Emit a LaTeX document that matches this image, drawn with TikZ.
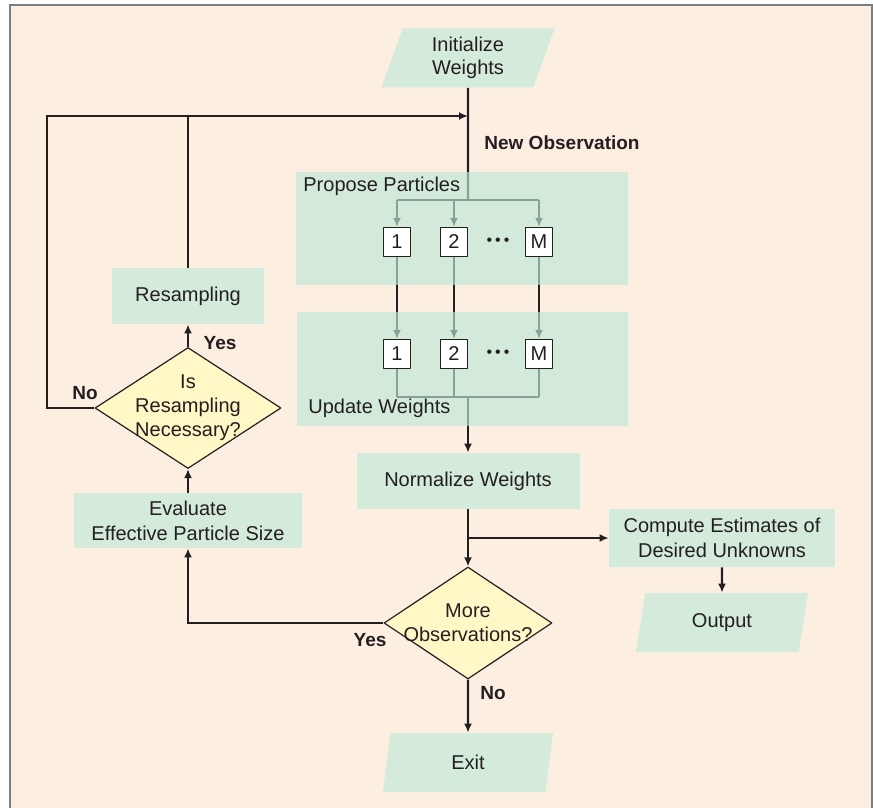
\documentclass[tikz,border=0pt]{standalone}
\usepackage{fontspec}
\setmainfont{Liberation Sans}
\usetikzlibrary{arrows.meta,shapes.geometric,calc}

\definecolor{paper}{RGB}{253,238,226}
\definecolor{mint}{RGB}{212,234,218}
\definecolor{panelmint}{RGB}{190,232,214}
\definecolor{pale}{RGB}{255,248,198}
\definecolor{ink}{RGB}{35,31,32}
\definecolor{framegray}{RGB}{125,125,125}

\pgfdeclarelayer{back}
\pgfdeclarelayer{lines}
\pgfsetlayers{back,lines,main}

\tikzset{
  stepbox/.style={rectangle,fill=mint,inner sep=0pt,text=ink,align=center,
    font=\fontsize{10}{12.5}\selectfont},
  panel/.style={rectangle,fill=panelmint,fill opacity=0.65,inner sep=0pt},
  iobox/.style={trapezium,trapezium left angle=63,trapezium right angle=117,
    trapezium stretches body=true,fill=mint,inner sep=0pt,text=ink,align=center,
    minimum height=29.5pt,font=\fontsize{10}{11.5}\selectfont},
  decision/.style={diamond,fill=pale,draw=ink,line width=0.6pt,inner sep=0pt},
  pbox/.style={rectangle,fill=white,draw=ink,line width=0.6pt,minimum width=13.5pt,
    minimum height=14.5pt,inner sep=0pt,text=ink,font=\fontsize{10}{12}\selectfont},
  dotrow/.style={inner sep=0pt,text=ink,font=\fontsize{8}{8}\selectfont},
  tag/.style={inner sep=1pt,text=ink,font=\fontsize{9.5}{11}\selectfont\bfseries},
  plain/.style={inner sep=0pt,text=ink,font=\fontsize{10}{12}\selectfont},
  link/.style={draw=ink,line width=1.2pt},
  flow/.style={link,->},
}

\begin{document}
\begin{tikzpicture}[x=0.5pt,y=-0.5pt,line join=round,>={Latex[length=4.5pt,width=4pt]}]
\useasboundingbox (0,0) rectangle (873,808);
\begin{pgfonlayer}{back}
  \fill[paper] (10,5) rectangle (873,808);
  \draw[framegray,line width=1pt] (10,808) -- (10,5) -- (872,5) -- (872,808);
\end{pgfonlayer}

% panels
\node[panel,minimum width=166pt,minimum height=56.5pt] (propose) at (462,228.5) {};
\node[panel,minimum width=165.5pt,minimum height=57pt] (update) at (462.5,369) {};
\node[plain,anchor=west] (proposetxt) at (303,186) {Propose Particles};
\node[plain,anchor=west] (updatetxt) at (308,408) {Update Weights};

% particles
\foreach \x/\t/\n in {397/1/1,454/2/2,539/M/m} {
  \node[pbox] (p\n) at (\x,242) {\t};
  \node[pbox] (u\n) at (\x,354) {\t};
}
\node[dotrow] (pdots) at (498,242) {\textbullet\hspace{1.5pt}\textbullet\hspace{1.5pt}\textbullet};
\node[dotrow] (udots) at (498,354) {\textbullet\hspace{1.5pt}\textbullet\hspace{1.5pt}\textbullet};

% main steps
\node[iobox,minimum width=86.5pt] (init) at (468,58) {Initialize\\Weights};
\node[stepbox,minimum width=111.5pt,minimum height=28pt] (norm) at (468,481) {Normalize Weights};
\node[decision,minimum width=84pt,minimum height=56pt,
  label={[plain,align=center]center:More\\Observations?}] (more) at (468,623) {};
\node[stepbox,minimum width=113pt,minimum height=29pt] (comp) at (722,538) {Compute Estimates of\\Desired Unknowns};
\node[iobox,minimum width=86pt] (out) at (722,622.5) {Output};
\node[iobox,minimum width=85pt] (exit) at (468,762.5) {Exit};
\node[stepbox,minimum width=114pt,minimum height=27.5pt] (eval) at (188,520.5) {Evaluate\\Effective Particle Size};
\node[decision,minimum width=93pt,minimum height=60.5pt,
  label={[plain,align=center]center:Is\\Resampling\\Necessary?}] (resamp) at (188,408) {};
\node[stepbox,minimum width=76pt,minimum height=28pt] (resbox) at (188,296) {Resampling};

% labels
\node[tag,anchor=west] (newobs) at (482,143) {New Observation};
\node[tag] (yesup) at (220,343) {Yes};
\node[tag] (noleft) at (85,393) {No};
\node[tag] (yesdown) at (370,640) {Yes};
\node[tag] (nodown) at (493,693) {No};

\coordinate (entry) at (468,116);
\coordinate (split) at (468,200);
\coordinate (join) at (468,397);
\coordinate (fork) at (468,538);
\coordinate (bend) at (47,408);

\begin{pgfonlayer}{lines}
  \draw[link] (init.south) -- (split);
  \draw[link] (p1 |- split) -- (pm |- split);
  \draw[link] (u1 |- join) -- (um |- join);
  \foreach \n in {1,2,m} {
    \draw[flow] (p\n |- split) -- (p\n.north);
    \draw[flow] (p\n.south) -- (u\n.north);
    \draw[link] (u\n.south) -- (u\n |- join);
  }
  \draw[flow] (join) -- (norm.north);
  \draw[flow] (norm.south) -- (more.north);
  \draw[flow] (fork) -- (comp.west);
  \draw[flow] (comp.south) -- (out.north);
  \draw[flow] (more.south) -- (exit.north);
  \draw[flow] (more.west) -| (eval.south);
  \draw[flow] (eval.north) -- (resamp.south);
  \draw[flow] (resamp.north) -- (resbox.south);
  \draw[link] (resbox.north) -- (resbox |- entry);
  \draw[flow] (resamp.west) -- (bend) |- (entry);
\end{pgfonlayer}
\end{tikzpicture}
\end{document}
